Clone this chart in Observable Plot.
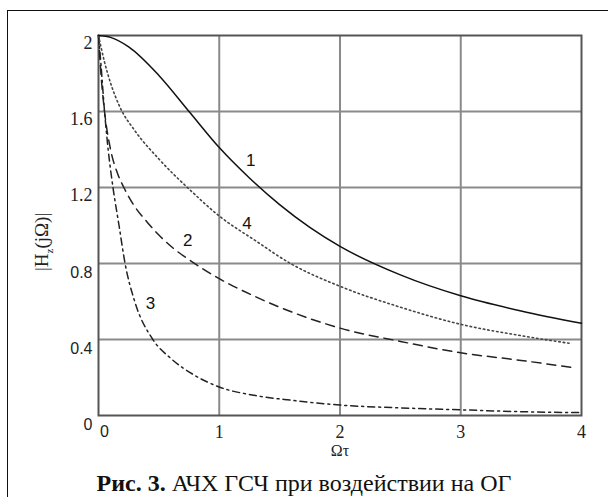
<!DOCTYPE html>
<html>
<head>
<meta charset="utf-8">
<script src="https://cdn.jsdelivr.net/npm/d3@7"></script>
<script src="https://cdn.jsdelivr.net/npm/@observablehq/plot@0.6"></script>
<style>
  html, body { margin: 0; padding: 0; background: #fff; }
  #wrap { position: relative; width: 608px; height: 497px; overflow: hidden; background: #fff; }
  #border { position: absolute; left: 7px; top: 10px; width: 800px; height: 700px;
            border-left: 1.5px solid #111; border-top: 1.5px solid #111; }
  #chart { position: absolute; left: 0; top: 0; }
  #xlabel { position: absolute; left: 290px; width: 100px; top: 443px; text-align: center;
            font-family: "Liberation Serif", serif; font-size: 16px; line-height: 16px; color: #222; }
  #ylabel { position: absolute; left: -7px; top: 230px; width: 100px; text-align: center;
            transform: rotate(-90deg); transform-origin: center;
            font-family: "Liberation Serif", serif; font-size: 19px; color: #222; white-space: nowrap; }
  #ylabel sub { font-size: 11px; }
  #caption { position: absolute; left: 0; width: 608px; top: 470px; text-align: center;
             font-family: "Liberation Serif", serif; font-size: 24px; color: #111; white-space: nowrap; }
</style>
</head>
<body>
<div id="wrap">
  <div id="border"></div>
  <div id="chart"></div>
  <div id="xlabel">Ωτ</div>
  <div id="ylabel">|H<sub>z</sub>(jΩ)|</div>
  <div id="caption"><b>Рис. 3.</b> АЧХ ГСЧ при воздействии на ОГ</div>
</div>
<script>
// Curve 1 (solid)
const x1 = [0, 0.1, 0.25, 0.5, 0.75, 1, 1.25, 1.5, 1.75, 2, 2.5, 3, 3.5, 4];
const y1 = [2, 1.99, 1.94, 1.79, 1.6, 1.41, 1.25, 1.11, 0.99, 0.89, 0.74, 0.63, 0.55, 0.485];
// Curve 2 (dashed)
const x2 = [0, 0.02, 0.05, 0.1, 0.16, 0.21, 0.3, 0.4, 0.5, 0.62, 0.75, 1, 1.25, 1.5, 1.75, 2, 2.5, 3, 3.5, 3.95];
const y2 = [2, 1.8, 1.6, 1.4, 1.27, 1.2, 1.1, 1.02, 0.95, 0.88, 0.82, 0.72, 0.64, 0.57, 0.51, 0.46, 0.39, 0.33, 0.29, 0.25];
// Curve 3 (dash-dot)
const x3 = [0, 0.02, 0.05, 0.08, 0.12, 0.17, 0.22, 0.3, 0.45, 0.6, 0.8, 1, 1.3, 1.6, 2, 2.5, 3, 3.5, 4];
const y3 = [2, 1.85, 1.6, 1.4, 1.2, 1.0, 0.8, 0.6, 0.4, 0.3, 0.21, 0.15, 0.105, 0.08, 0.055, 0.04, 0.03, 0.02, 0.015];
// Curve 4 (dotted)
const x4 = [0, 0.05, 0.1, 0.18, 0.3, 0.5, 0.77, 1, 1.3, 1.59, 2, 2.5, 3, 3.5, 3.9];
const y4 = [2, 1.86, 1.75, 1.62, 1.5, 1.35, 1.18, 1.05, 0.92, 0.8, 0.68, 0.57, 0.48, 0.42, 0.38];

// Curve labels
const labelText = ["1", "2", "3", "4"];
const labelX = [1.26, 0.74, 0.43, 1.23];
const labelY = [1.34, 0.92, 0.59, 1.01];

// Ticks
const yTicksSerif = [2, 1.6, 1.2];
const yTicksSans = [0.8, 0.4, 0];
const xTicksSerif = [1, 2, 3, 4];
const xTicksSans = [0];
const xGrid = [1, 2, 3];
const yGrid = [0.4, 0.8, 1.2, 1.6];

const toRows = (xs, ys) => xs.map((x, i) => ({x, y: ys[i]}));
const c1 = toRows(x1, y1), c2 = toRows(x2, y2), c3 = toRows(x3, y3), c4 = toRows(x4, y4);
const labels = labelText.map((t, i) => ({t, x: labelX[i], y: labelY[i]}));

const axisStyle = {tickSize: 0, label: null, fill: "#222"};

const chart = Plot.plot({
  width: 608,
  height: 460,
  marginLeft: 98,
  marginRight: 27,
  marginTop: 35,
  marginBottom: 45,
  x: {domain: [0, 4]},
  y: {domain: [0, 2]},
  style: {background: "transparent", fontSize: "16px", color: "#222"},
  marks: [
    Plot.gridX(xGrid, {stroke: "#8a8a8a", strokeOpacity: 1, strokeWidth: 2}),
    Plot.gridY(yGrid, {stroke: "#8a8a8a", strokeOpacity: 1, strokeWidth: 2}),
    Plot.frame({stroke: "#555", strokeWidth: 2}),
    Plot.axisY(yTicksSerif, {...axisStyle, tickPadding: 6, dy: 8, fontFamily: "Liberation Serif", fontSize: 18, tickFormat: d => String(d)}),
    Plot.axisY(yTicksSans, {...axisStyle, tickPadding: 6, dy: 9, fontFamily: "Liberation Sans", fontSize: 16, tickFormat: d => String(d)}),
    Plot.axisX(xTicksSerif, {...axisStyle, tickPadding: 10, fontFamily: "Liberation Serif", fontSize: 18, tickFormat: d => String(d)}),
    Plot.axisX(xTicksSans, {...axisStyle, tickPadding: 10, dx: 6, fontFamily: "Liberation Sans", fontSize: 16, tickFormat: d => String(d)}),
    Plot.line(c3, {x: "x", y: "y", stroke: "#222", strokeWidth: 1.5, strokeDasharray: "7,4,2,4", curve: "monotone-x"}),
    Plot.line(c2, {x: "x", y: "y", stroke: "#222", strokeWidth: 1.5, strokeDasharray: "9,6", curve: "monotone-x"}),
    Plot.line(c4, {x: "x", y: "y", stroke: "#444", strokeWidth: 1.6, strokeDasharray: "1.5,3", curve: "monotone-x"}),
    Plot.line(c1, {x: "x", y: "y", stroke: "#111", strokeWidth: 1.5, curve: "monotone-x"}),
    Plot.text(labels, {x: "x", y: "y", text: "t", fontFamily: "Liberation Sans", fontSize: 17, fill: "#111"})
  ]
});
document.getElementById("chart").appendChild(chart);
</script>
</body>
</html>
